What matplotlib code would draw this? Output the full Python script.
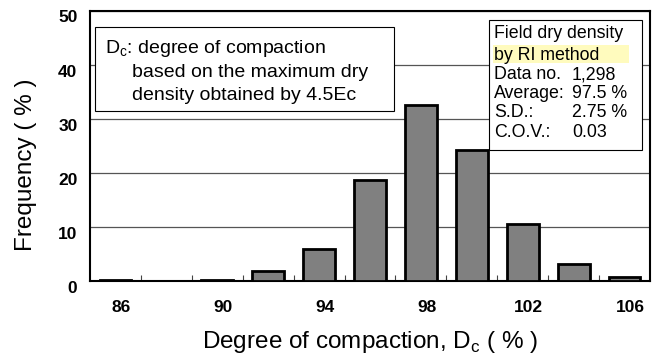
import matplotlib
matplotlib.use("Agg")
import matplotlib.pyplot as plt
import matplotlib.patches as patches
import matplotlib.transforms as mtransforms

plt.rcParams['font.family'] = ['Liberation Sans', 'DejaVu Sans']
plt.rcParams['mathtext.fontset'] = 'custom'
plt.rcParams['mathtext.rm'] = 'Liberation Sans'

# Frequency of degree of compaction, bins of 2 %
bin_centers = [86, 88, 90, 92, 94, 96, 98, 100, 102, 104, 106]
frequency = [0.2, 0, 0.2, 1.8, 6.0, 18.6, 32.5, 24.2, 10.6, 3.2, 0.7]
label_ticks = [86, 90, 94, 98, 102, 106]
bin_edges = [87, 89, 91, 93, 95, 97, 99, 101, 103, 105]
y_ticks = [0, 10, 20, 30, 40, 50]

stats_labels = ["Data no.", "Average:", "S.D.:", "C.O.V.:"]
stats_values = ["1,298", "97.5 %", "2.75 %", "0.03"]

W, H = 663, 358
fig = plt.figure(figsize=(W / 100, H / 100), dpi=100)
ax = fig.add_axes([90 / W, 1 - 281 / H, 560 / W, 270.5 / H])


def px(x, y):
    # pixel position -> figure fraction
    return x / W, 1 - y / H


ax.bar(bin_centers, frequency, width=1.25, color='#808080', edgecolor='black',
       linewidth=2, zorder=3)

ax.set_xlim(85, 107)
ax.set_ylim(0, 50)
ax.set_yticks(y_ticks)
ax.set_xticks(label_ticks)
ax.set_xticks(bin_edges, minor=True)
ax.yaxis.grid(True, color='#555555', linewidth=0.9, zorder=1)
ax.set_axisbelow(True)

ax.tick_params(axis='x', which='major', length=0, pad=14, labelsize=12.5)
ax.tick_params(axis='x', which='minor', direction='in', length=4.5, width=0.8,
               color='#444444')
ax.tick_params(axis='y', which='major', length=0, pad=9, labelsize=12.5)
for lab in ax.get_xticklabels() + ax.get_yticklabels():
    lab.set_fontweight('bold')

# tick labels sit a little off their ticks in the original
dx = mtransforms.ScaledTranslation(6 / 100, 0, fig.dpi_scale_trans)
dy = mtransforms.ScaledTranslation(0, -6 / 100, fig.dpi_scale_trans)
for t in ax.xaxis.get_major_ticks():
    t.label1.set_transform(t.label1.get_transform() + dx)
for t in ax.yaxis.get_major_ticks():
    t.label1.set_transform(t.label1.get_transform() + dy)

for s in ax.spines.values():
    s.set_linewidth(1.5)

ax.set_xlabel("Degree of compaction, D$_\\mathregular{c}$ ( % )", fontsize=17.5,
              va='baseline')
ax.xaxis.set_label_coords(0.5, (281 - 348) / 270.5)
ax.set_ylabel("Frequency ( % )", fontsize=17.5, va='center')
ax.yaxis.set_label_coords((26 - 90) / 560, 0.431)

# definition box
x0, y0 = px(95, 111)
x1, y1 = px(394, 27)
fig.patches.append(patches.Rectangle((x0, y0), x1 - x0, y1 - y0, transform=fig.transFigure,
                                     facecolor='white', edgecolor='black', linewidth=0.8,
                                     zorder=2))
fig.text(*px(105, 53), "D$_\\mathregular{c}$: degree of compaction", fontsize=14,
         va='baseline', zorder=3)
fig.text(*px(132.5, 77), "based on the maximum dry", fontsize=14, va='baseline', zorder=3)
fig.text(*px(132.5, 100), "density obtained by 4.5Ec", fontsize=14, va='baseline', zorder=3)

# statistics box
x0, y0 = px(489, 150)
x1, y1 = px(642, 20)
fig.patches.append(patches.Rectangle((x0, y0), x1 - x0, y1 - y0, transform=fig.transFigure,
                                     facecolor='white', edgecolor='black', linewidth=0.8,
                                     zorder=2))
x0, y0 = px(492.5, 63)
x1, y1 = px(629, 45)
fig.patches.append(patches.Rectangle((x0, y0), x1 - x0, y1 - y0, transform=fig.transFigure,
                                     facecolor='#FFFBBE', edgecolor='none', zorder=2.5))
fig.text(*px(494, 38), "Field dry density", fontsize=12.8, va='baseline', zorder=3)
fig.text(*px(494, 59.5), "by RI method", fontsize=12.8, va='baseline', zorder=3)
for i, (lab, val) in enumerate(zip(stats_labels, stats_values)):
    yb = 79 + 19.2 * i
    fig.text(*px(494, yb), lab, fontsize=12.8, va='baseline', zorder=3)
    fig.text(*px(572, yb), val, fontsize=12.8, va='baseline', zorder=3)

fig.savefig("out.png", dpi=100)
